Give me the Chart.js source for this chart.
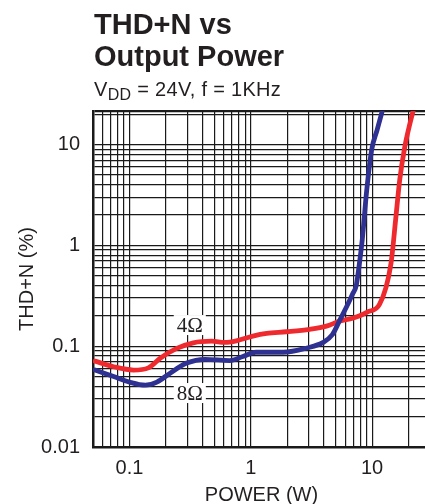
<!DOCTYPE html>
<html>
<head>
<meta charset="utf-8">
<script src="https://cdn.jsdelivr.net/npm/chart.js@4.4.0/dist/chart.umd.min.js"></script>
<style>
  html, body { margin: 0; padding: 0; background: #fff; }
  #wrap { position: relative; width: 425px; height: 504px; overflow: hidden; }
  #myChart { position: absolute; left: 0; top: 0; }
  .txt { position: absolute; left: 94px; font-family: "Liberation Sans", Arial, sans-serif; color: #231f20; white-space: nowrap; }
</style>
</head>
<body>
<div id="wrap">
  <!-- el area del grafico sigue 5px mas alla del borde derecho, como en el original -->
  <canvas id="myChart" width="430" height="504"></canvas>
  <div class="txt" style="top:9px; font-size:29px; font-weight:bold; line-height:31.7px;">THD+N vs<br>Output Power</div>
  <div class="txt" style="top:77px; font-size:20px; line-height:24px; letter-spacing:0.3px;">V<span style="font-size:16px; vertical-align:-4px; line-height:1;">DD</span> = 24V, f = 1KHz</div>
</div>
<script>
// datos (W, %)
const potencia8 = [0.052, 0.074, 0.1, 0.135, 0.168, 0.216, 0.296, 0.42, 0.67, 0.86, 1.1, 1.85, 2.9, 3.95, 4.7, 5.4, 6.2, 6.9, 7.4, 7.8, 8.3, 9.0, 9.9, 11.0, 12.3];
const thd8      = [0.058, 0.050, 0.044, 0.041, 0.044, 0.054, 0.068, 0.074, 0.072, 0.079, 0.087, 0.087, 0.096, 0.109, 0.130, 0.18, 0.25, 0.33, 0.40, 0.62, 1.15, 3.4, 8.8, 14, 23];

const potencia4 = [0.052, 0.074, 0.108, 0.143, 0.179, 0.245, 0.336, 0.475, 0.61, 0.76, 1.04, 1.35, 1.96, 3.05, 4.2, 5.4, 6.9, 7.9, 9.2, 11.5, 14.3, 15.7, 16.9, 18.6, 20.2, 22.5];
const thd4      = [0.071, 0.0625, 0.058, 0.061, 0.076, 0.095, 0.108, 0.112, 0.109, 0.113, 0.126, 0.134, 0.139, 0.147, 0.158, 0.177, 0.189, 0.2, 0.219, 0.26, 0.66, 1.9, 4.5, 9.5, 15, 25];

const etiquetasX = ['0.1', '1', '10'];
const etiquetasY = ['0.01', '0.1', '1', '10'];

// rotulos de las curvas (posicion en unidades de datos)
const rotulos = [
  { texto: '4Ω', x: 0.314, y: 0.162 },
  { texto: '8Ω', x: 0.314, y: 0.0343 }
];

const xMin = 0.05, xMax = 30;
const yMin = 0.01, yMax = 21.5;

// lineas de grilla log: 1..9 por decada
function grillaLog(min, max) {
  const vals = [];
  for (let d = -3; d <= 2; d++) {
    for (let m = 1; m <= 9; m++) {
      const v = +(m * Math.pow(10, d)).toPrecision(3);
      if (v >= min - 1e-9 && v <= max + 1e-9) vals.push(v);
    }
  }
  if (vals[vals.length - 1] < max) vals.push(max);
  if (vals[0] > min) vals.unshift(min);
  return vals;
}
const ticksX = grillaLog(xMin, xMax);
const ticksY = grillaLog(yMin, yMax);

const negro = '#1a1a1a';
Chart.defaults.font.family = '"Liberation Sans", Arial, sans-serif';
Chart.defaults.color = '#231f20';

const rotulosPlugin = {
  id: 'rotulos',
  afterDatasetsDraw(chart) {
    const { ctx, scales: { x, y } } = chart;
    ctx.save();
    ctx.font = '21px "Liberation Serif", "Times New Roman", serif';
    ctx.textAlign = 'center';
    ctx.textBaseline = 'middle';
    rotulos.forEach(r => {
      const px = x.getPixelForValue(r.x);
      const py = y.getPixelForValue(r.y);
      const w = ctx.measureText(r.texto).width + 6;
      ctx.fillStyle = '#fff';
      ctx.fillRect(px - w / 2, py - 10, w, 20);
      ctx.fillStyle = '#231f20';
      ctx.fillText(r.texto, px, py + 1);
    });
    ctx.restore();
  }
};

const ctx = document.getElementById('myChart');
new Chart(ctx, {
  type: 'line',
  data: {
    datasets: [{
      label: '8Ω',
      data: potencia8.map((p, i) => ({ x: p, y: thd8[i] })),
      borderColor: '#2e3192',
      borderWidth: 4.8,
      pointRadius: 0,
      cubicInterpolationMode: 'monotone',
      borderCapStyle: 'round',
      borderJoinStyle: 'round',
      clip: 0
    }, {
      label: '4Ω',
      data: potencia4.map((p, i) => ({ x: p, y: thd4[i] })),
      borderColor: '#ee2a2e',
      borderWidth: 4.8,
      pointRadius: 0,
      cubicInterpolationMode: 'monotone',
      borderCapStyle: 'round',
      borderJoinStyle: 'round',
      clip: 0
    }]
  },
  options: {
    responsive: false,
    animation: false,
    layout: { padding: { top: 111, right: 0, bottom: 0, left: 0 } },
    plugins: { legend: { display: false }, tooltip: { enabled: false } },
    scales: {
      x: {
        type: 'logarithmic',
        min: xMin,
        max: xMax,
        afterBuildTicks: s => { s.ticks = ticksX.map(v => ({ value: v })); },
        afterFit: s => { s.height = 57; s.paddingLeft = 0; s.paddingRight = 0; },
        ticks: {
          autoSkip: false,
          maxRotation: 0,
          padding: 9,
          font: { size: 20 },
          callback: v => { const t = String(+(+v).toPrecision(3)); return etiquetasX.includes(t) ? t : ''; }
        },
        grid: { color: negro, lineWidth: 1.2, drawTicks: false },
        border: { display: true, color: negro, width: 2.5 },
        title: { display: true, text: 'POWER (W)', font: { size: 20, lineHeight: 0.9 }, padding: 0 }
      },
      y: {
        type: 'logarithmic',
        min: yMin,
        max: yMax,
        afterBuildTicks: s => { s.ticks = ticksY.map(v => ({ value: v })); },
        afterFit: s => { s.width = 93; },
        ticks: {
          autoSkip: false,
          padding: 13,
          font: { size: 20 },
          callback: v => { const t = String(+(+v).toPrecision(3)); return etiquetasY.includes(t) ? t : ''; }
        },
        grid: {
          color: negro,
          lineWidth: c => (c.tick && c.tick.value === yMax ? 2.2 : 1.2),
          drawTicks: false
        },
        border: { display: true, color: negro, width: 2.5 },
        title: { display: true, text: 'THD+N (%)', font: { size: 20 }, padding: { top: 15.5, bottom: 0 } }
      }
    }
  },
  plugins: [rotulosPlugin]
});
</script>
</body>
</html>
